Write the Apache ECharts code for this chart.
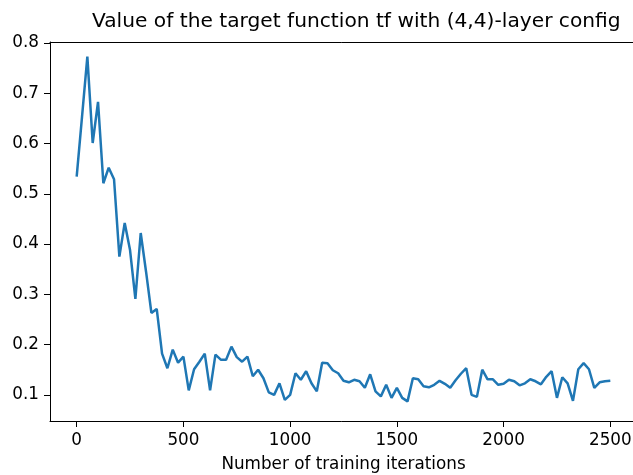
<!DOCTYPE html>
<html>
<head>
<meta charset="utf-8">
<script src="https://cdn.jsdelivr.net/npm/echarts@6/dist/echarts.min.js"></script>
<style>
  html, body { margin: 0; padding: 0; background: #fff; }
  #chart { width: 633px; height: 475px; }
</style>
</head>
<body>
<div id="chart"></div>
<script>
// training iteration at which tf was evaluated
const iterations = [
  0, 25, 50, 75, 100, 125, 150, 175, 200, 225,
  250, 275, 300, 325, 350, 375, 400, 425, 450, 475,
  500, 525, 550, 575, 600, 625, 650, 675, 700, 725,
  750, 775, 800, 825, 850, 875, 900, 925, 950, 975,
  1000, 1025, 1050, 1075, 1100, 1125, 1150, 1175, 1200, 1225,
  1250, 1275, 1300, 1325, 1350, 1375, 1400, 1425, 1450, 1475,
  1500, 1525, 1550, 1575, 1600, 1625, 1650, 1675, 1700, 1725,
  1750, 1775, 1800, 1825, 1850, 1875, 1900, 1925, 1950, 1975,
  2000, 2025, 2050, 2075, 2100, 2125, 2150, 2175, 2200, 2225,
  2250, 2275, 2300, 2325, 2350, 2375, 2400, 2425, 2450, 2475,
  2500
];

// value of the target function
const tfValues = [
  0.534, 0.653, 0.773, 0.601, 0.683, 0.521, 0.552, 0.529, 0.375, 0.442,
  0.388, 0.291, 0.422, 0.345, 0.263, 0.271, 0.182, 0.153, 0.190, 0.164,
  0.176, 0.109, 0.151, 0.166, 0.182, 0.109, 0.180, 0.170, 0.170, 0.196,
  0.175, 0.166, 0.176, 0.137, 0.150, 0.133, 0.105, 0.100, 0.123, 0.090,
  0.100, 0.143, 0.130, 0.147, 0.123, 0.107, 0.164, 0.163, 0.149, 0.143,
  0.128, 0.125, 0.130, 0.127, 0.114, 0.141, 0.107, 0.097, 0.120, 0.094,
  0.114, 0.094, 0.087, 0.133, 0.131, 0.117, 0.115, 0.120, 0.128, 0.122,
  0.114, 0.129, 0.142, 0.153, 0.100, 0.096, 0.150, 0.131, 0.131, 0.120,
  0.122, 0.130, 0.127, 0.119, 0.123, 0.131, 0.127, 0.121, 0.136, 0.147,
  0.094, 0.135, 0.123, 0.088, 0.151, 0.163, 0.151, 0.114, 0.125, 0.127,
  0.128
];

const xTicks = [0, 500, 1000, 1500, 2000, 2500];
const yTicks = [0.1, 0.2, 0.3, 0.4, 0.5, 0.6, 0.7, 0.8];

const FONT = 'DejaVu Sans';
const chart = echarts.init(document.getElementById('chart'));

const spine = { show: true, onZero: false, lineStyle: { color: '#000', width: 1 } };

const option = {
  animation: false,
  backgroundColor: '#fff',
  title: {
    text: 'Value of the target function tf with (4,4)-layer config',
    left: 87,
    top: 7,
    textStyle: { fontFamily: FONT, fontSize: 20.2, fontWeight: 'normal', color: '#000' }
  },
  grid: {
    left: 50,
    right: -4,
    top: 42,
    bottom: 54,
    outerBoundsMode: 'none',
    containLabel: false
  },
  xAxis: [
    {
      type: 'value',
      min: -125,
      max: 2625,
      name: 'Number of training iterations',
      nameLocation: 'middle',
      nameGap: 35,
      nameTextStyle: { fontFamily: FONT, fontSize: 16.8, color: '#000' },
      axisLine: spine,
      axisTick: { show: true, customValues: xTicks, length: 6, lineStyle: { color: '#000' } },
      axisLabel: {
        customValues: xTicks,
        margin: 11,
        fontFamily: FONT,
        fontSize: 16.8,
        color: '#000',
        formatter: v => String(v)
      },
      splitLine: { show: false }
    },
    {
      // top spine only
      type: 'value',
      position: 'top',
      min: -125,
      max: 2625,
      axisLine: spine,
      axisTick: { show: false },
      axisLabel: { show: false },
      splitLine: { show: false }
    }
  ],
  yAxis: {
    type: 'value',
    min: 0.048,
    max: 0.802,
    axisLine: spine,
    axisTick: { show: true, customValues: yTicks, length: 6, lineStyle: { color: '#000' } },
    axisLabel: {
      customValues: yTicks,
      margin: 11,
      fontFamily: FONT,
      fontSize: 16.8,
      color: '#000',
      formatter: v => v.toFixed(1)
    },
    splitLine: { show: false }
  },
  series: [
    {
      type: 'line',
      data: iterations.map((it, i) => [it, tfValues[i]]),
      showSymbol: false,
      lineStyle: { color: '#1f77b4', width: 2.5 },
      itemStyle: { color: '#1f77b4' },
      clip: true
    }
  ]
};

chart.setOption(option);
</script>
</body>
</html>
